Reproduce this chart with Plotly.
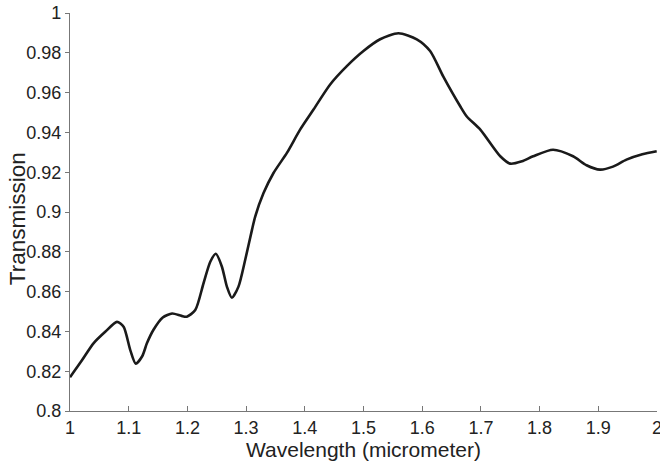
import plotly.graph_objects as go

wavelength = [1.0, 1.0204, 1.04, 1.06, 1.08, 1.0913, 1.1027, 1.112, 1.123, 1.131, 1.142, 1.158, 1.174,
              1.19, 1.199, 1.2134, 1.2275, 1.239, 1.2485, 1.2588, 1.2673, 1.2758, 1.287, 1.2985, 1.31,
              1.3155, 1.3297, 1.3467, 1.3695, 1.392, 1.4148, 1.4432, 1.4716, 1.4999, 1.5283, 1.5595,
              1.5908, 1.6135, 1.636, 1.665, 1.676, 1.699, 1.733, 1.75, 1.77, 1.789, 1.823, 1.857,
              1.88, 1.903, 1.925, 1.948, 1.975, 1.9995]
transmission = [0.817, 0.8255, 0.834, 0.8398, 0.8448, 0.8423, 0.8306, 0.8238, 0.8275, 0.834, 0.8407, 0.847, 0.849,
                0.8478, 0.8474, 0.8507, 0.8642, 0.875, 0.879, 0.8725, 0.8625, 0.8569, 0.8625, 0.876, 0.891,
                0.8977, 0.9095, 0.9196, 0.9297, 0.9414, 0.9515, 0.9641, 0.9733, 0.9809, 0.9868, 0.9898,
                0.9868, 0.9809, 0.968, 0.953, 0.948, 0.9414, 0.928, 0.9243, 0.9255, 0.928, 0.9313, 0.928,
                0.9235, 0.9213, 0.9228, 0.9263, 0.929, 0.9305]

x_ticks = [1, 1.1, 1.2, 1.3, 1.4, 1.5, 1.6, 1.7, 1.8, 1.9, 2]
y_ticks = [0.8, 0.82, 0.84, 0.86, 0.88, 0.9, 0.92, 0.94, 0.96, 0.98, 1]

fig = go.Figure()
fig.add_trace(go.Scatter(x=wavelength, y=transmission, mode="lines",
                         line=dict(color="#1a1a1a", width=2.6, shape="spline", smoothing=0.7),
                         showlegend=False, hoverinfo="skip"))

font_family = "Arial, Liberation Sans, Helvetica, sans-serif"
fig.update_layout(
    width=660, height=462,
    margin=dict(l=70, r=3, t=13, b=51, pad=0),
    paper_bgcolor="white", plot_bgcolor="white",
    font=dict(family=font_family, size=18, color="#222"),
    xaxis=dict(range=[1, 2], tickvals=x_ticks, ticktext=[f"{v:g}" for v in x_ticks],
               automargin=False, ticklabeloverflow="allow",
               showline=True, linecolor="#777", linewidth=1.3, showgrid=False, zeroline=False,
               ticks="inside", ticklen=5, tickcolor="#777", tickwidth=1,
               tickfont=dict(size=18, color="#222"),
               title=dict(text="Wavelength (micrometer)", font=dict(size=21, color="#222"), standoff=1)),
    yaxis=dict(range=[0.8, 1], tickvals=y_ticks, ticktext=[f"{v:g}" for v in y_ticks],
               automargin=False, ticklabeloverflow="allow",
               showline=True, linecolor="#777", linewidth=1.3, showgrid=False, zeroline=False,
               ticks="outside", ticklen=4, tickcolor="#777", tickwidth=1,
               tickfont=dict(size=18, color="#222")),
    annotations=[dict(text="Transmission", textangle=-90, xref="paper", yref="paper",
                      x=0, y=0.482, xshift=-53, xanchor="center", yanchor="middle",
                      showarrow=False, font=dict(size=22.5, color="#222"))],
)

fig.write_html("out.html", config={"displayModeBar": False},
               post_script="document.body.style.margin='0';document.body.style.overflow='hidden';")
